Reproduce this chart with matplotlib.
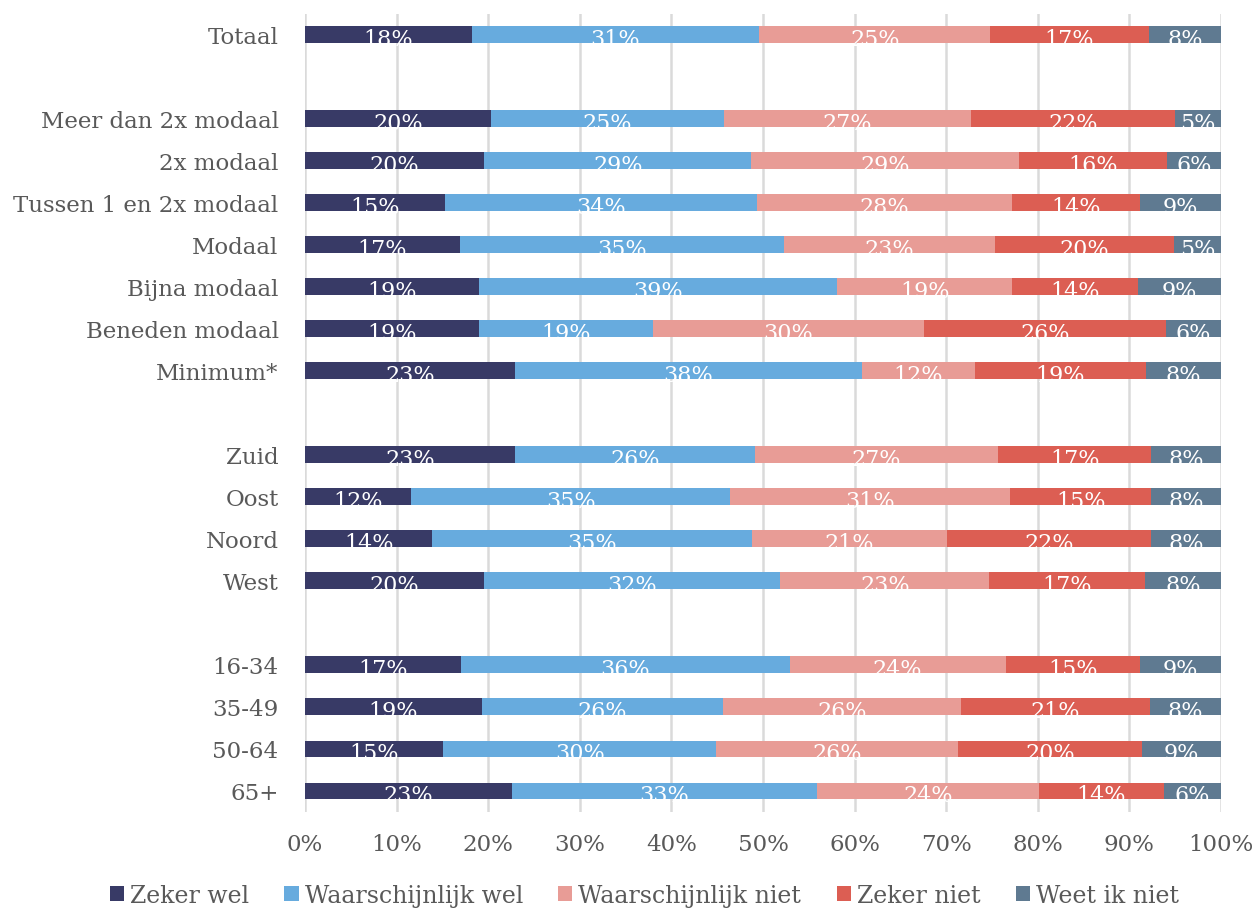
import matplotlib.pyplot as plt
import numpy as np
from matplotlib.patches import Patch

plt.rcParams["font.family"] = ["DejaVu Serif"]

# rows from top to bottom; empty strings are the spacer rows
categories = ["Totaal", "",
              "Meer dan 2x modaal", "2x modaal", "Tussen 1 en 2x modaal", "Modaal",
              "Bijna modaal", "Beneden modaal", "Minimum*", "",
              "Zuid", "Oost", "Noord", "West", "",
              "16-34", "35-49", "50-64", "65+"]

series = ["Zeker wel", "Waarschijnlijk wel", "Waarschijnlijk niet",
          "Zeker niet", "Weet ik niet"]

zeker_wel = [18.2, None, 20.3, 19.6, 15.3, 16.9, 19.0, 19.0, 22.9, None,
             22.9, 11.6, 13.9, 19.5, None, 17.0, 19.3, 15.1, 22.6]
waarsch_wel = [31.4, None, 25.4, 29.1, 34.0, 35.4, 39.1, 19.0, 37.9, None,
               26.2, 34.8, 34.9, 32.4, None, 35.9, 26.3, 29.8, 33.3]
waarsch_niet = [25.2, None, 27.0, 29.2, 27.9, 23.0, 19.1, 29.6, 12.3, None,
                26.6, 30.6, 21.3, 22.8, None, 23.6, 26.0, 26.4, 24.2]
zeker_niet = [17.3, None, 22.3, 16.2, 14.0, 19.6, 13.7, 26.4, 18.7, None,
              16.7, 15.4, 22.3, 17.0, None, 14.7, 20.6, 20.1, 13.7]
weet_niet = [7.9, None, 5.0, 5.9, 8.8, 5.1, 9.1, 6.0, 8.2, None,
             7.6, 7.6, 7.6, 8.3, None, 8.8, 7.8, 8.6, 6.2]

colors = ["#383a66", "#67abde", "#e89c96", "#dc5e53", "#5f7a91"]
TEXT = "#595959"

fig = plt.figure(figsize=(12.56, 9.12), dpi=100)
ax = fig.add_axes([0.2428, 0.1086, 0.7293, 0.8755])

y = np.arange(len(categories))
left = np.zeros(len(categories))
for name, vals, col in zip(series,
                           [zeker_wel, waarsch_wel, waarsch_niet, zeker_niet, weet_niet],
                           colors):
    w = np.array([v if v is not None else 0.0 for v in vals])
    ax.barh(y, w, left=left, height=0.4, color=col, label=name, zorder=2)
    for yi, (l, wi, v) in enumerate(zip(left, w, vals)):
        if v is None:
            continue
        ax.text(l + wi / 2, yi + 0.1, f"{round(v)}%", ha="center", va="center",
                color="white", fontsize=16, zorder=3)
    left += w

ax.set_xlim(0, 100)
ax.set_ylim(len(categories) - 0.5, -0.5)
ax.set_yticks(y)
ax.set_yticklabels(categories)
ax.set_xticks(np.arange(0, 101, 10))
ax.set_xticklabels([f"{t}%" for t in range(0, 101, 10)])
ax.tick_params(axis="both", length=0, labelsize=16.5, colors=TEXT)
ax.tick_params(axis="y", pad=19)
ax.tick_params(axis="x", pad=15)
ax.grid(axis="x", color="#dadada", lw=1.8, zorder=0)
for s in ax.spines.values():
    s.set_visible(False)

handles = [Patch(facecolor=c, label=n) for n, c in zip(series, colors)]
fig.legend(handles=handles, loc="center", bbox_to_anchor=(0.513, 0.017), ncol=5,
           frameon=False, fontsize=17, handlelength=0.6, handleheight=0.6,
           handletextpad=0.25, columnspacing=1.5, labelcolor=TEXT)

fig.savefig("out.png", dpi=100)
